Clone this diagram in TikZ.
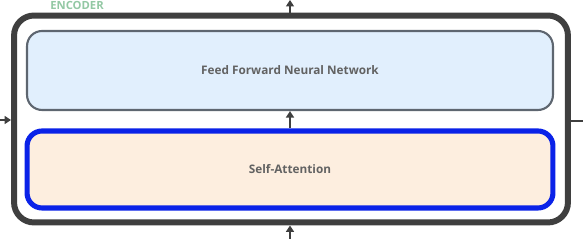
\documentclass[tikz,border=0pt]{standalone}
\usepackage{fontspec}
\setmainfont{Open Sans}
\usetikzlibrary{arrows.meta, positioning}
\definecolor{encgray}{HTML}{3F3F3F}
\definecolor{enclabel}{HTML}{93C8A4}
\definecolor{ffnnfill}{HTML}{E1EFFD}
\definecolor{ffnnline}{HTML}{5E6670}
\definecolor{safill}{HTML}{FDEEDF}
\definecolor{saline}{HTML}{0A22E8}
\definecolor{txtgray}{HTML}{626262}
\tikzset{
  encbox/.style={rectangle,rounded corners=0.4cm,draw=encgray,line width=3.4pt,
    minimum width=11.08cm,minimum height=4.14cm},
  layer/.style 2 args={rectangle,rounded corners=0.3cm,draw=#1,fill=#2,
    minimum width=10.52cm,align=center,text=txtgray,
    font=\fontsize{6.7}{8}\selectfont\bfseries},
  arrow/.style={-{Triangle[length=1.3mm,width=1.6mm]},line width=0.9pt,encgray},
}

\begin{document}
\begin{tikzpicture}[x=0.02cm,y=-0.02cm]
    \useasboundingbox (0,0) rectangle (583,239);
    \node[encbox] (enc) at (291,119) {};
    \node[text=enclabel,font=\fontsize{6.4}{7}\selectfont\bfseries,anchor=north west,inner sep=0pt] (label) at (50,1.5) {ENCODER};
    \node[layer={ffnnline}{ffnnfill},line width=1.2pt,minimum height=1.58cm] (ffnn) at (290,70.5) {Feed Forward Neural Network};
    \node[layer={saline}{safill},line width=2.9pt,minimum height=1.54cm] (sa) at (290,169.5) {Self-Attention};
    % connections in and out
    \coordinate (top) at (290,0);
    \coordinate (bottom) at (290,239);
    \coordinate (left) at (0,120);
    \coordinate (right) at (583,121);
    \draw[arrow] (enc.north -| top) -- (top);
    \draw[arrow] (bottom) -- (enc.south -| bottom);
    \draw[arrow] (sa.north) -- (ffnn.south);
    \draw[arrow] (left) -- (enc.west |- left);
    \draw[line width=0.9pt,encgray] (enc.east |- right) -- (right);
\end{tikzpicture}
\end{document}
